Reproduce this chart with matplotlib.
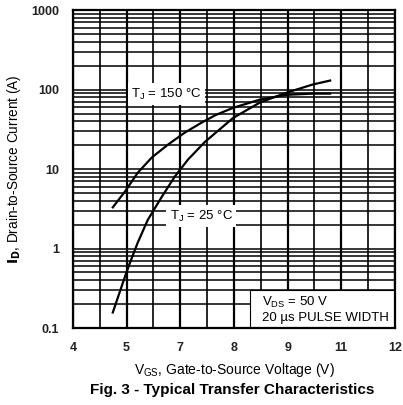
import numpy as np
import matplotlib
matplotlib.use('Agg')
import matplotlib.pyplot as plt
from matplotlib.patches import Rectangle
from matplotlib.ticker import FixedLocator, LogLocator, NullFormatter

plt.rcParams['font.family'] = ['Liberation Sans', 'DejaVu Sans']

# Curve data
vgs_150 = [4.99, 5.29, 5.61, 5.96, 6.36, 6.78, 7.20, 7.55, 7.98, 8.65, 9.32, 9.96, 10.39]
id_150 = [3.3, 5.2, 9.0, 14.0, 20.3, 28.8, 38.5, 48, 59, 75, 86, 89, 89]

vgs_25 = [4.99, 5.29, 5.42, 5.61, 5.86, 6.21, 6.53, 6.86, 7.28, 7.98, 8.65, 9.32, 9.96, 10.39]
id_25 = [0.157, 0.44, 0.67, 1.19, 2.3, 4.5, 8.05, 13.2, 22, 44, 69, 92, 116, 130]

x_tick_labels = ['4', '5', '7', '8', '9', '11', '12']
y_ticks = [0.1, 1, 10, 100, 1000]
y_tick_labels = ['0.1', '1', '10', '100', '1000']

fig = plt.figure(figsize=(4.03, 4.05), dpi=100)
ax = fig.add_axes([0.181, 0.190, 0.799, 0.785])

ax.set_xlim(4, 12)
ax.set_ylim(0.1, 1000)
ax.set_yscale('log')

# grid: 12 vertical divisions, full log grid
ax.xaxis.set_major_locator(FixedLocator(np.linspace(4, 12, 7)))
ax.xaxis.set_minor_locator(FixedLocator(np.linspace(4, 12, 13)))
ax.set_xticklabels(x_tick_labels)
ax.yaxis.set_major_locator(FixedLocator(y_ticks))
ax.set_yticklabels(y_tick_labels)
ax.yaxis.set_minor_locator(LogLocator(base=10, subs=np.arange(2, 10)))
ax.yaxis.set_minor_formatter(NullFormatter())

ax.grid(True, which='major', axis='x', color='black', linewidth=1.6)
ax.grid(True, which='minor', axis='x', color='black', linewidth=1.2)
ax.grid(True, which='both', axis='y', color='black', linewidth=1.1)
ax.tick_params(which='both', length=0)
ax.tick_params(axis='x', pad=10, labelsize=9)
ax.tick_params(axis='y', pad=10, labelsize=9)
for lab in ax.get_xticklabels() + ax.get_yticklabels():
    lab.set_fontweight('bold')
    lab.set_color('#222222')
for sp in ax.spines.values():
    sp.set_linewidth(1.6)
    sp.set_zorder(5)

ax.plot(vgs_150, id_150, color='black', linewidth=1.6, zorder=3)
ax.plot(vgs_25, id_25, color='black', linewidth=1.6, zorder=3)

box = dict(facecolor='white', edgecolor='none', pad=2.5)
ax.text(5.45, 88, 'T$_\\mathregular{J}$ = 150 °C', fontsize=9.5, va='center', ha='left',
        bbox=box, zorder=4)
ax.text(6.4, 2.55, 'T$_\\mathregular{J}$ = 25 °C', fontsize=9.5, va='center', ha='left',
        bbox=box, zorder=4)

# V_DS note box in lower right corner
ax.add_patch(Rectangle((8.4, 0.1), 3.6, 0.205, facecolor='white', edgecolor='black',
                       linewidth=0.8, zorder=4))
ax.text(8.7, 0.112, 'V$_\\mathregular{DS}$ = 50 V\n20 µs PULSE WIDTH', fontsize=9.5,
        ha='left', va='bottom', linespacing=1.2, zorder=5)

ax.set_xlabel('V$_\\mathregular{GS}$, Gate-to-Source Voltage (V)', fontsize=10, labelpad=5)
ax.set_ylabel(r'$\mathbf{I_D}$, Drain-to-Source Current (A)', fontsize=9.8, labelpad=6)

fig.text(0.575, 0.037, 'Fig. 3 - Typical Transfer Characteristics', fontsize=11,
         fontweight='bold', ha='center', va='center')

fig.savefig('out.png', dpi=100)
